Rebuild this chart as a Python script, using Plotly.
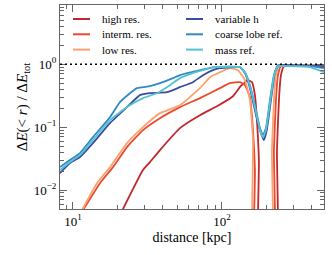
import plotly.graph_objects as go

# ---- data ----
ZERO = 1e-4  # stands in for values that drop to zero (off the log axis)

high_x = [20.67, 29.5, 32.87, 38.37, 52.26, 71.17, 92.6, 118.5, 133.5, 149.5, 159.0, 166.5, 171.7, 177.0, 179.5, 230.4, 234.0, 241.3, 248.9, 260.7, 334.0, 483.8]
high_y = [0.0040, 0.0208, 0.0279, 0.0433, 0.0966, 0.155, 0.215, 0.31, 0.447, 0.557, 0.518, 0.322, 0.129, 0.030, ZERO, ZERO, 0.0433, 0.268, 0.669, 0.93, 0.964, 0.964]

interm_x = [11.67, 15.18, 18.56, 23.04, 29.5, 38.37, 52.26, 71.17, 96.9, 113.2, 132.1, 142.7, 154.2, 161.5, 166.5, 168.5, 220.0, 223.4, 230.4, 237.6, 248.9, 300.0, 483.8]
interm_y = [0.0048, 0.0129, 0.0232, 0.0481, 0.0899, 0.139, 0.208, 0.289, 0.416, 0.499, 0.518, 0.464, 0.299, 0.0899, 0.0208, ZERO, ZERO, 0.0433, 0.268, 0.669, 0.93, 0.964, 0.964]

low_x = [11.49, 14.49, 17.71, 23.04, 29.5, 38.37, 52.26, 71.17, 83.1, 96.9, 113.2, 128.1, 142.7, 154.2, 161.5, 165.0, 213.3, 216.6, 223.4, 230.4, 241.0, 300.0, 483.8]
low_y = [0.0048, 0.0129, 0.0232, 0.0558, 0.100, 0.167, 0.223, 0.416, 0.622, 0.746, 0.864, 0.803, 0.557, 0.268, 0.0622, ZERO, ZERO, 0.0433, 0.268, 0.669, 0.93, 0.964, 0.964]

varh_x = [8.18, 9.55, 11.14, 13.62, 17.71, 23.04, 28.16, 32.87, 42.74, 52.26, 63.88, 74.55, 87.0, 96.9, 132.1, 142.7, 154.2, 166.5, 179.9, 191.0, 200.0, 213.3, 226.9, 241.0, 286.0, 483.8]
varh_y = [0.0186, 0.0269, 0.0335, 0.0558, 0.116, 0.208, 0.322, 0.346, 0.359, 0.431, 0.518, 0.669, 0.803, 0.864, 0.896, 0.72, 0.416, 0.186, 0.0899, 0.0622, 0.0899, 0.268, 0.746, 0.964, 0.964, 0.93]

coarse_x = [8.18, 9.55, 11.14, 13.62, 17.71, 20.67, 24.13, 26.89, 32.87, 38.37, 46.91, 52.26, 71.17, 89.7, 132.1, 142.7, 154.2, 166.5, 179.9, 188.4, 197.4, 210.0, 223.4, 237.6, 286.0, 389.5, 483.8]
coarse_y = [0.0232, 0.030, 0.0387, 0.0694, 0.144, 0.249, 0.346, 0.416, 0.447, 0.499, 0.600, 0.669, 0.803, 0.896, 0.896, 0.746, 0.464, 0.223, 0.0966, 0.0747, 0.0966, 0.268, 0.669, 0.964, 0.93, 0.93, 0.864]

mass_x = [8.18, 9.55, 11.14, 13.62, 17.71, 23.04, 29.5, 36.63, 44.77, 52.26, 63.88, 74.55, 89.7, 132.1, 142.7, 154.2, 166.5, 179.9, 188.4, 197.4, 210.0, 223.4, 237.6, 286.0, 389.5, 483.8]
mass_y = [0.0208, 0.0279, 0.036, 0.0622, 0.129, 0.208, 0.289, 0.346, 0.464, 0.600, 0.72, 0.803, 0.896, 0.896, 0.746, 0.447, 0.208, 0.0899, 0.0694, 0.0899, 0.240, 0.645, 0.93, 0.93, 0.896, 0.746]

names = ["high res.", "interm. res.", "low res.", "variable h", "coarse lobe ref.", "mass ref."]
colors = ["#c0282d", "#ec4a2c", "#f9a26e", "#3b4ba0", "#2f89c5", "#55c1d2"]

y_tickvals = [0.01, 0.1, 1]
y_ticktext = ["10<sup>−2</sup>", "10<sup>−1</sup>", "10<sup>0</sup>"]
x_tickvals = [10, 100]
x_ticktext = ["10<sup>1</sup>", "10<sup>2</sup>"]
x_minor = [9, 20, 30, 40, 50, 60, 70, 80, 90, 200, 300, 400]
y_minor = [m * 10 ** e for e in (-3, -2, -1, 0) for m in range(2, 10)]

series = [(high_x, high_y), (interm_x, interm_y), (low_x, low_y),
          (varh_x, varh_y), (coarse_x, coarse_y), (mass_x, mass_y)]

W, H = 332, 255
ML, MR, MT, MB = 60, 8, 5, 46
PW, PH = W - ML - MR, H - MT - MB

fig = go.Figure()
for (xs, ys), nm, col in zip(series, names, colors):
    fig.add_trace(go.Scatter(
        x=xs, y=ys, mode="lines", name=nm, showlegend=False, hoverinfo="skip",
        line=dict(color=col, width=1.8, shape="spline", smoothing=0.4),
    ))

fig.add_hline(y=1, line=dict(color="black", width=1.5, dash="2px,3px"))

# legend drawn as line samples + labels (2 columns x 3 rows), offsets in px from plot's left/top
for i, (nm, col) in enumerate(zip(names, colors)):
    c, r = divmod(i, 3)
    x0 = (13 + c * 113) / PW
    x1 = (30 + c * 113) / PW
    yy = 1 - (14 + r * 15.3) / PH
    fig.add_shape(type="line", xref="paper", yref="paper",
                  x0=x0, x1=x1, y0=yy, y1=yy,
                  line=dict(color=col, width=2))
    fig.add_annotation(xref="paper", yref="paper", x=(40 + c * 113) / PW, y=yy,
                       text=nm, showarrow=False, xanchor="left", yanchor="middle",
                       font=dict(size=11, color="black", family="Liberation Serif"))

axis_col = "#666666"
fig.update_xaxes(
    type="log", range=[0.913, 2.685], automargin=False,
    tickvals=x_tickvals, ticktext=x_ticktext,
    ticks="inside", ticklen=7, tickwidth=1, tickcolor=axis_col,
    minor=dict(tickvals=x_minor, ticks="inside", ticklen=4, tickcolor=axis_col),
    showline=True, linecolor=axis_col, linewidth=1, mirror="ticks",
    showgrid=False, zeroline=False,
    tickfont=dict(size=13, color="black"),
    title=dict(text="distance [kpc]", font=dict(size=14, color="black"), standoff=4),
)
fig.update_yaxes(
    type="log", range=[-2.30, 0.94], automargin=False,
    tickvals=y_tickvals, ticktext=y_ticktext,
    ticks="inside", ticklen=7, tickwidth=1, tickcolor=axis_col,
    minor=dict(tickvals=y_minor, ticks="inside", ticklen=4, tickcolor=axis_col),
    showline=True, linecolor=axis_col, linewidth=1, mirror="ticks",
    showgrid=False, zeroline=False,
    tickfont=dict(size=13, color="black"),
    title=dict(text="Δ<i>E</i>(&lt; <i>r</i>) / Δ<i>E</i><sub>tot</sub>",
               font=dict(size=15, color="black"), standoff=2),
)

fig.update_layout(
    width=W, height=H,
    margin=dict(l=ML, r=MR, t=MT, b=MB, autoexpand=False),
    paper_bgcolor="white", plot_bgcolor="white",
    font=dict(family="Liberation Serif", color="black"),
    showlegend=False, hovermode=False,
)

fig.write_html(
    "out.html",
    config={"displayModeBar": False, "staticPlot": True},
    post_script=("document.body.style.margin='0';document.body.style.padding='0';"
                 "document.body.style.overflow='hidden';"
                 "document.documentElement.style.overflow='hidden';"
                 "window.scrollTo(0,0);"),
)
